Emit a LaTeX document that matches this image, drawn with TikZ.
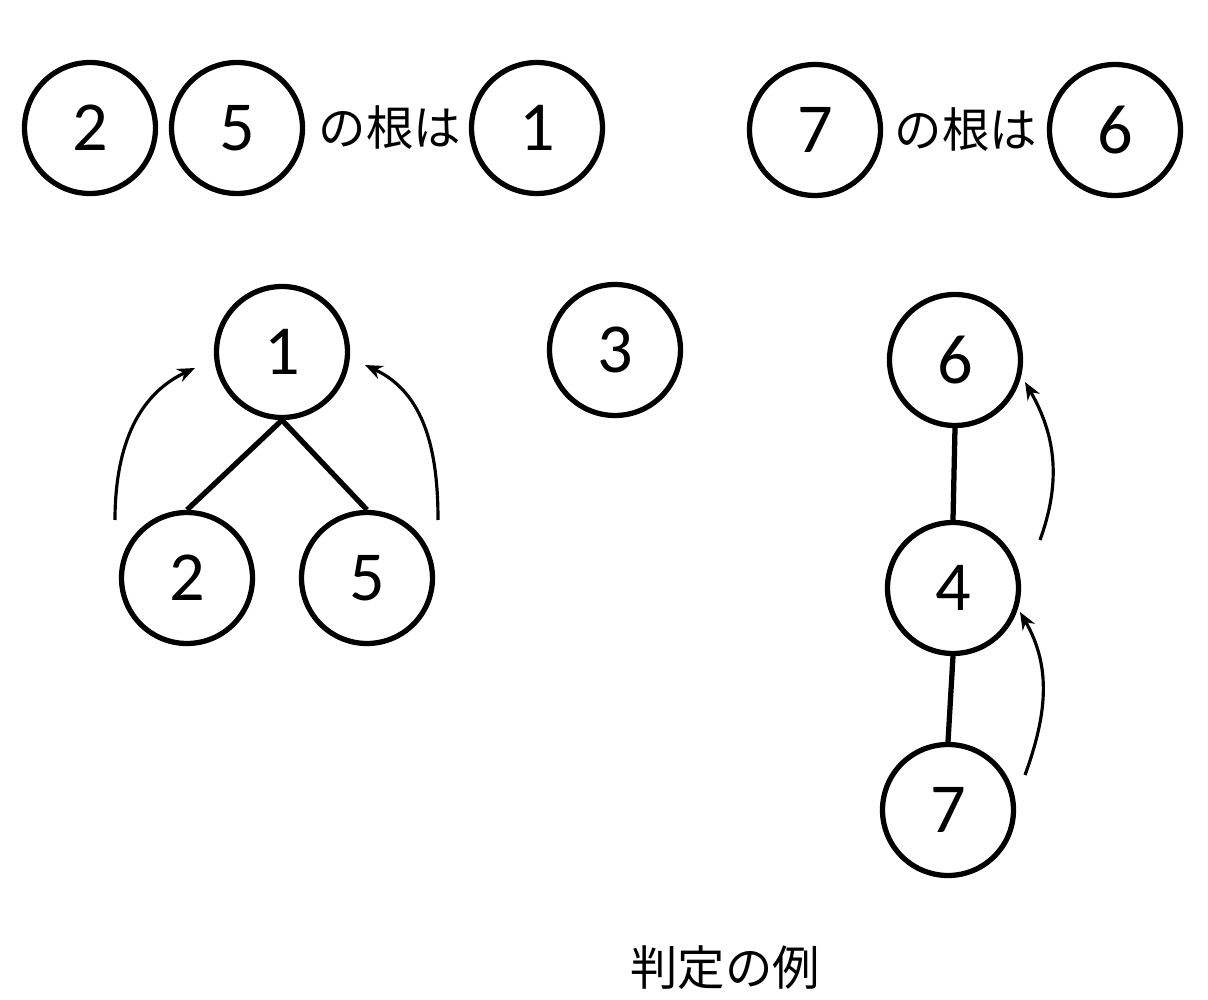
\documentclass[tikz,border=0pt]{standalone}
\usepackage{fontspec}
\usetikzlibrary{arrows.meta}
\setmainfont{Carlito}
\newfontfamily\jpfont{Noto Sans CJK JP}
\tikzset{
  vert/.style={draw, circle, line width=3pt, minimum size=2.62cm, inner sep=0pt, font=\fontsize{40}{44}\selectfont},
  edge/.style={line width=3pt},
  parent/.style={-{Stealth[length=10pt, width=8pt]}, line width=1.8pt},
  jptext/.style={font=\jpfont\fontsize{27}{30}\selectfont, inner sep=0pt}
}
\begin{document}
\begin{tikzpicture}[x=0.02cm, y=-0.02cm]
    \useasboundingbox (0,0) rectangle (1208,1000);

    % Top row: 2, 5 -> root 1
    \node[vert] (q2) at (90,128)  {2};
    \node[vert] (q5) at (237,128) {5};
    \node[jptext] (t1) at (390,128) {の根は};
    \node[vert] (q1) at (537,128) {1};

    % Top row: 7 -> root 6
    \node[vert] (q7) at (815,130)  {7};
    \node[jptext] (t2) at (966,130) {の根は};
    \node[vert] (q6) at (1115,130) {6};

    % Tree with root 1
    \node[vert] (a1) at (282,352) {1};
    \node[vert] (a2) at (187,578) {2};
    \node[vert] (a5) at (367,578) {5};
    \draw[edge] (a1.south) -- (a2.north);
    \draw[edge] (a1.south) -- (a5.north);

    % Lonely node 3
    \node[vert] (b3) at (615,350) {3};

    % Chain 7 - 4 - 6
    \node[vert] (c6) at (955,360) {6};
    \node[vert] (c4) at (953,588) {4};
    \node[vert] (c7) at (948,810) {7};
    \draw[edge] (c6.south) -- (c4.north);
    \draw[edge] (c4.south) -- (c7.north);

    % Arrows to the parent
    \coordinate (l0) at (115,520);  \coordinate (l1) at (195,368);
    \coordinate (r0) at (438,520);  \coordinate (r1) at (365,365);
    \coordinate (u0) at (1040,540); \coordinate (u1) at (1025,382);
    \coordinate (v0) at (1025,775); \coordinate (v1) at (1020,612);
    \draw[parent] (l0) to[out=90, in=205] (l1);
    \draw[parent] (r0) to[out=90, in=-25] (r1);
    \draw[parent] (u0) to[out=70, in=-60] (u1);
    \draw[parent] (v0) to[out=70, in=-60] (v1);

    % Caption
    \node[jptext] (cap) at (725,968) {判定の例};

\end{tikzpicture}
\end{document}
